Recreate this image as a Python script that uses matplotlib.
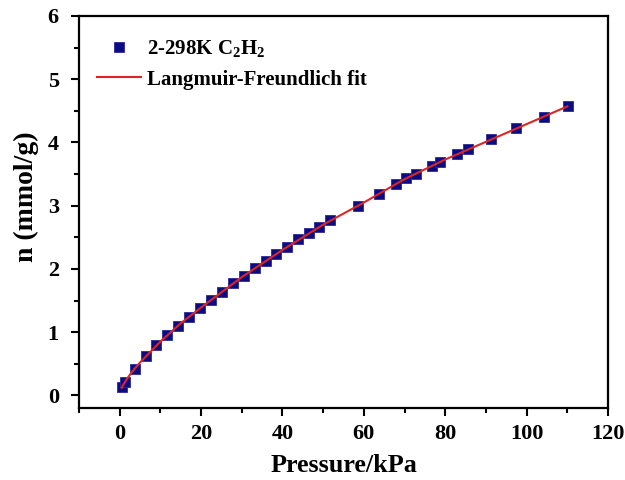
import matplotlib
matplotlib.use("Agg")
import matplotlib.pyplot as plt
from matplotlib.ticker import MultipleLocator

pressure = [0.6, 1.2, 3.7, 6.4, 9.0, 11.7, 14.3, 17.0, 19.7, 22.4, 25.1, 27.8,
            30.5, 33.2, 35.9, 38.5, 41.1, 43.7, 46.5, 49.1, 51.8, 58.5, 63.7,
            68.0, 70.4, 72.9, 76.8, 78.6, 82.9, 85.6, 91.3, 97.4, 104.2, 110.1]
uptake = [0.14, 0.21, 0.42, 0.62, 0.79, 0.95, 1.10, 1.24, 1.38, 1.51, 1.64, 1.77,
          1.89, 2.01, 2.12, 2.24, 2.35, 2.48, 2.57, 2.66, 2.77, 3.00, 3.19,
          3.34, 3.44, 3.50, 3.63, 3.69, 3.82, 3.89, 4.05, 4.23, 4.40, 4.57]

# fitted curve, sampled along the red line
fit_pressure = [0.5, 1, 2, 3, 5, 10, 15, 20, 30, 40, 50, 60, 70, 80, 90, 100, 110]
fit_uptake = [0.12, 0.18, 0.28, 0.37, 0.52, 0.85, 1.14, 1.39, 1.87, 2.30, 2.70,
              3.05, 3.42, 3.73, 4.01, 4.29, 4.57]

plt.rcParams["font.family"] = ["Liberation Serif", "DejaVu Serif"]
plt.rcParams["font.weight"] = "bold"
plt.rcParams["mathtext.fontset"] = "custom"
plt.rcParams["mathtext.rm"] = "Liberation Serif:bold"
plt.rcParams["mathtext.it"] = "Liberation Serif:bold"
plt.rcParams["mathtext.bf"] = "Liberation Serif:bold"

fig = plt.figure(figsize=(6.25, 4.8), dpi=100)
ax = fig.add_axes([0.1264, 0.15, 0.8464, 0.8167])

ax.plot(pressure, uptake, "s", color="#0c0c80", markeredgecolor="#2a2a9a",
        markersize=7.5, markeredgewidth=0.6, label="2-298K C$_2$H$_2$", zorder=2)
ax.plot(fit_pressure, fit_uptake, "-", color="#e02424", lw=1.5,
        label="Langmuir-Freundlich fit", zorder=3)

ax.set_xlim(-10, 120)
ax.set_ylim(-0.2, 6)
ax.xaxis.set_major_locator(MultipleLocator(20))
ax.xaxis.set_minor_locator(MultipleLocator(10))
ax.yaxis.set_major_locator(MultipleLocator(1))
ax.yaxis.set_minor_locator(MultipleLocator(0.5))
ax.tick_params(which="both", direction="out", top=False, right=False,
               labelsize=16, width=1.5)
ax.tick_params(which="major", length=6)
ax.tick_params(which="minor", length=3.5)
ax.tick_params(axis="x", which="major", pad=5.5)
ax.tick_params(axis="y", which="major", pad=8.5)
for s in ax.spines.values():
    s.set_linewidth(1.6)

ax.set_xlabel("Pressure/kPa", fontsize=18.8, fontweight="bold", labelpad=7)
ax.set_ylabel("n (mmol/g)", fontsize=20, fontweight="bold")
ax.yaxis.set_label_coords(-0.076, 0.538)

ax.legend(loc="upper left", bbox_to_anchor=(0.01, 0.975), frameon=False,
          fontsize=15, numpoints=1, handlelength=2.1, handletextpad=0.3,
          labelspacing=0.5, borderaxespad=0.2)

fig.savefig("out.png", dpi=100)
